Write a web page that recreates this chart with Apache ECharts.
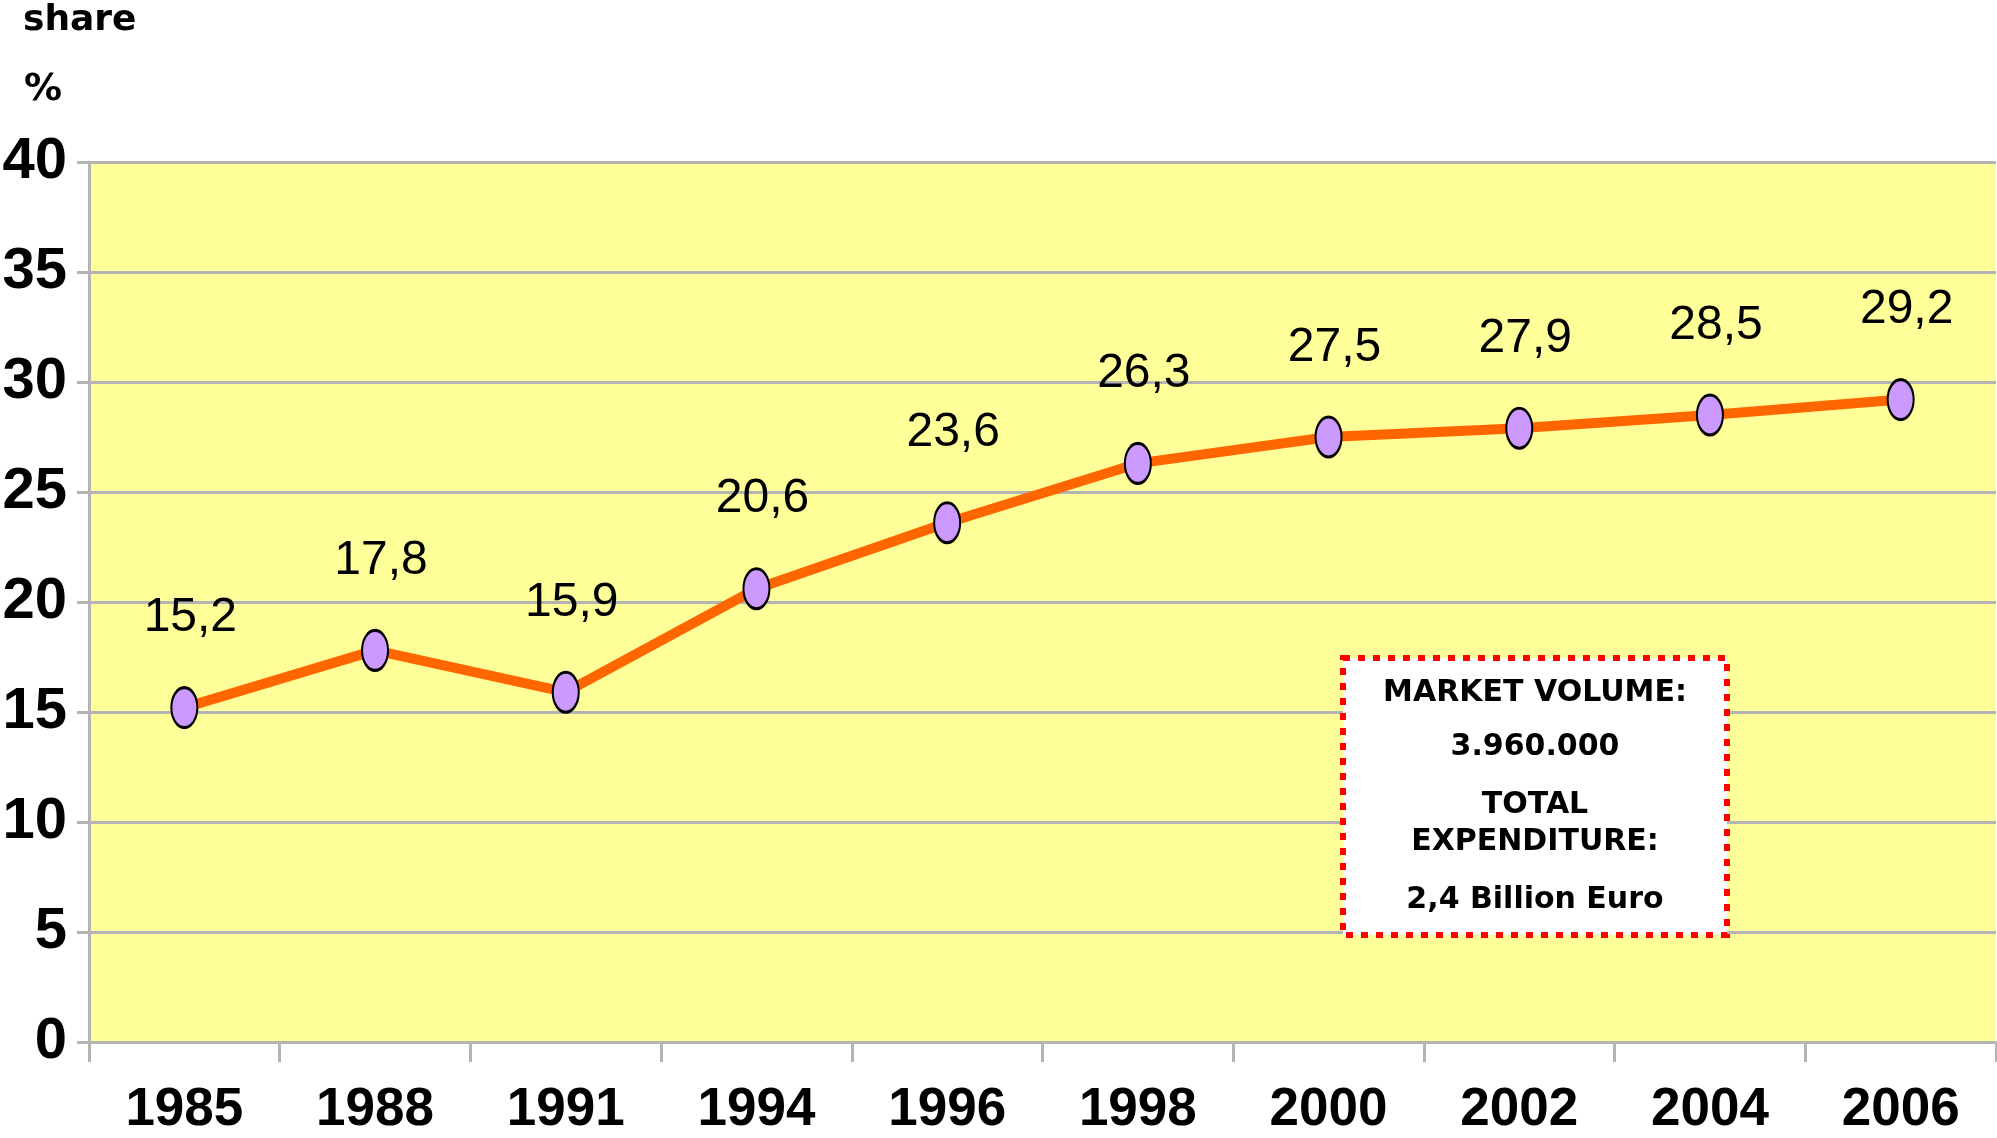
<!DOCTYPE html>
<html>
<head>
<meta charset="utf-8">
<script src="https://cdn.jsdelivr.net/npm/echarts@6/dist/echarts.min.js"></script>
<style>
  html, body { margin: 0; padding: 0; background: #ffffff; }
  #chart { width: 1997px; height: 1138px; }
</style>
</head>
<body>
<div id="chart"></div>
<script>
// Market share by year (%)
const years = ['1985', '1988', '1991', '1994', '1996', '1998', '2000', '2002', '2004', '2006'];
const shareValues = [15.2, 17.8, 15.9, 20.6, 23.6, 26.3, 27.5, 27.9, 28.5, 29.2];

// Y axis scale
const yMin = 0;
const yMax = 40;
const yStep = 5;

// Annotation box lines
const boxLines = ['MARKET VOLUME:', '3.960.000', 'TOTAL', 'EXPENDITURE:', '2,4 Billion Euro'];

const arial = "'Liberation Sans', Arial, sans-serif";
const boxFont = "'DejaVu Sans', Verdana, sans-serif";
const gridGray = '#b4b4b4';

const chart = echarts.init(document.getElementById('chart'));

// Box geometry
const boxX = 1343, boxY = 658, boxW = 384, boxH = 277;
const lineCenters = [35, 89, 147, 184, 242];

const boxChildren = [
  {
    type: 'rect',
    z: 100,
    shape: { x: 0, y: 0, width: boxW, height: boxH },
    style: { fill: '#ffffff', stroke: '#ff0000', lineWidth: 6, lineDash: [7, 8] }
  }
].concat(boxLines.map((t, i) => ({
  type: 'text',
  z: 101,
  x: boxW / 2,
  y: lineCenters[i],
  style: {
    text: t,
    fill: '#000000',
    font: 'bold 30px ' + boxFont,
    textAlign: 'center',
    textVerticalAlign: 'middle'
  }
})));

chart.setOption({
  animation: false,
  backgroundColor: '#ffffff',
  grid: {
    left: 89,
    right: 1,
    top: 162,
    bottom: 96,
    containLabel: false,
    outerBoundsMode: 'none',
    show: true,
    backgroundColor: '#ffff99',
    borderWidth: 0
  },
  xAxis: {
    type: 'category',
    data: years,
    boundaryGap: true,
    axisLine: { show: true, lineStyle: { color: gridGray, width: 3 } },
    axisTick: { show: true, length: 20, lineStyle: { color: gridGray, width: 3 } },
    axisLabel: {
      color: '#000000',
      fontFamily: arial,
      fontWeight: 'bold',
      fontSize: 53,
      margin: 42
    },
    splitLine: { show: false }
  },
  yAxis: {
    type: 'value',
    min: yMin,
    max: yMax,
    interval: yStep,
    axisLine: { show: true, lineStyle: { color: gridGray, width: 3 } },
    axisTick: { show: true, length: 12, lineStyle: { color: gridGray, width: 3 } },
    axisLabel: {
      color: '#000000',
      fontFamily: arial,
      fontWeight: 'bold',
      fontSize: 58,
      margin: 22
    },
    splitLine: { show: true, lineStyle: { color: gridGray, width: 3 } }
  },
  series: [{
    type: 'line',
    data: shareValues,
    lineStyle: { color: '#ff6600', width: 10 },
    symbol: 'circle',
    symbolSize: [26, 40],
    itemStyle: { color: '#cc99ff', borderColor: '#000000', borderWidth: 2.5 },
    label: {
      show: true,
      position: 'top',
      distance: 44,
      offset: [6, 0],
      color: '#000000',
      fontFamily: arial,
      fontSize: 48,
      formatter: p => String(p.value).replace('.', ',')
    },
    z: 3
  }],
  graphic: [
    {
      type: 'text',
      left: 23,
      top: 3,
      style: { text: 'share', fill: '#000000', font: 'bold 36px ' + boxFont }
    },
    {
      type: 'text',
      left: 24,
      top: 71,
      style: { text: '%', fill: '#000000', font: 'bold 38px ' + boxFont }
    },
    {
      type: 'group',
      x: boxX,
      y: boxY,
      z: 100,
      children: boxChildren
    }
  ]
});
</script>
</body>
</html>
